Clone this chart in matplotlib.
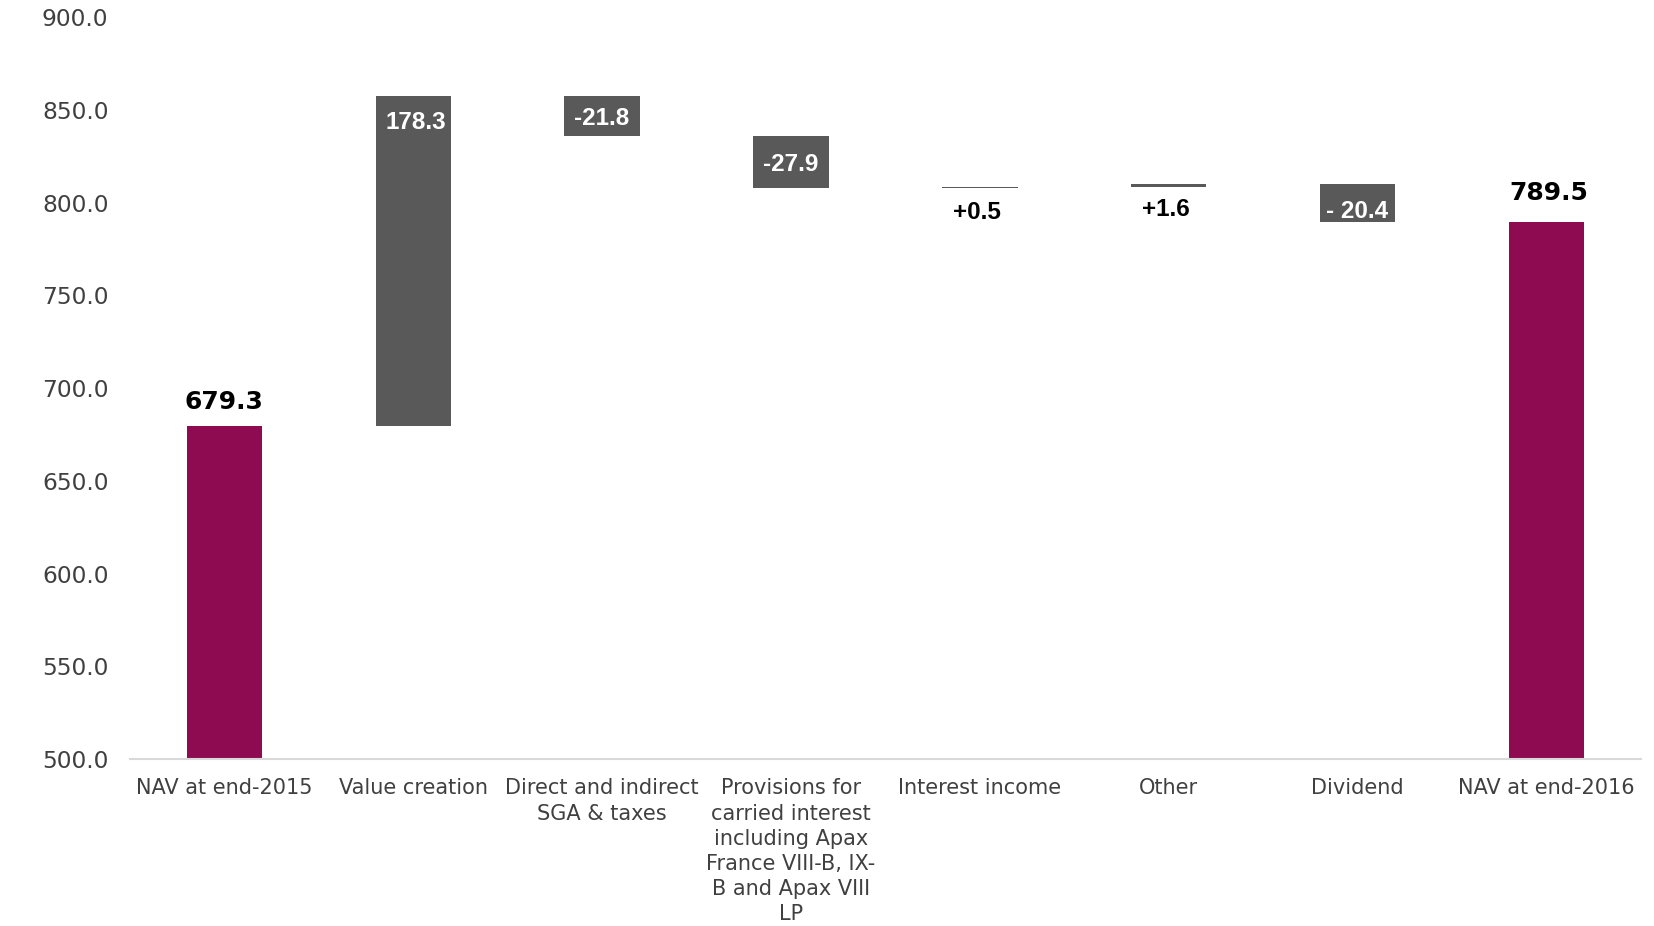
import numpy as np
import matplotlib
matplotlib.use('Agg')
import matplotlib.pyplot as plt

# data
categories = ["NAV at end-2015", "Value creation", "Direct and indirect\nSGA & taxes",
              "Provisions for\ncarried interest\nincluding Apax\nFrance VIII-B, IX-\nB and Apax VIII\nLP",
              "Interest income", "Other", "Dividend", "NAV at end-2016"]
start_nav = 679.3
deltas = [178.3, -21.8, -27.9, 0.5, 1.6, -20.4]
delta_labels = ["178.3", "-21.8", "-27.9", "+0.5", "+1.6", "- 20.4"]
end_nav = 789.5
yticks = [500, 550, 600, 650, 700, 750, 800, 850, 900]

purple = "#8E0B52"
grey = "#595959"

fig = plt.figure(figsize=(16.54, 9.26), dpi=100)
ax = fig.add_axes([0.0786, 0.1803, 0.9134, 0.8013])

x = np.arange(len(categories))
w = 0.4

# totals
ax.bar(x[0], start_nav - 500, bottom=500, width=w, color=purple)
ax.bar(x[-1], end_nav - 500, bottom=500, width=w, color=purple)
ax.annotate(f"{start_nav:.1f}", (x[0], start_nav), xytext=(0, 9), textcoords="offset points",
            ha="center", va="bottom", fontsize=18, fontweight="bold", color="black")
ax.annotate(f"{end_nav:.1f}", (x[-1], end_nav), xytext=(2, 12), textcoords="offset points",
            ha="center", va="bottom", fontsize=18, fontweight="bold", color="black")

# deltas
fs = 17.5
level = start_nav
for i, (d, lab) in enumerate(zip(deltas, delta_labels)):
    xi = x[i + 1]
    lo, hi = min(level, level + d), max(level, level + d)
    ax.bar(xi, hi - lo, bottom=lo, width=w, color=grey)
    if abs(d) < 5:
        ax.annotate(lab, (xi, hi), xytext=(-2, -10), textcoords="offset points",
                    ha="center", va="top", fontsize=fs, fontweight="bold",
                    family="Liberation Sans", color="black")
    elif i == 0:
        ax.annotate(lab, (xi, hi), xytext=(2, -11), textcoords="offset points",
                    ha="center", va="top", fontsize=fs, fontweight="bold",
                    family="Liberation Sans", color="white")
    elif lab.startswith("- "):
        ax.annotate(lab, (xi, lo), xytext=(0, -1), textcoords="offset points",
                    ha="center", va="bottom", fontsize=fs, fontweight="bold",
                    family="Liberation Sans", color="white")
    else:
        ax.annotate(lab, (xi, (lo + hi) / 2), xytext=(0, -2), textcoords="offset points",
                    ha="center", va="center", fontsize=fs, fontweight="bold",
                    family="Liberation Sans", color="white")
    level += d

ax.set_xlim(-0.5, len(categories) - 0.5)
ax.set_ylim(500, 900)
ax.set_yticks(yticks)
ax.set_yticklabels([f"{v:.1f}" for v in yticks])
ax.set_xticks(x)
ax.set_xticklabels(categories, fontsize=15, color="#404040", linespacing=1.32, va="top")
ax.tick_params(axis="y", labelsize=16.8, labelcolor="#404040", length=0, pad=15.5)
ax.tick_params(axis="x", length=0, pad=14)
for s in ["top", "right", "left"]:
    ax.spines[s].set_visible(False)
ax.spines["bottom"].set_color("#d9d9d9")
ax.spines["bottom"].set_linewidth(1.5)

fig.savefig("out.png", dpi=100)
